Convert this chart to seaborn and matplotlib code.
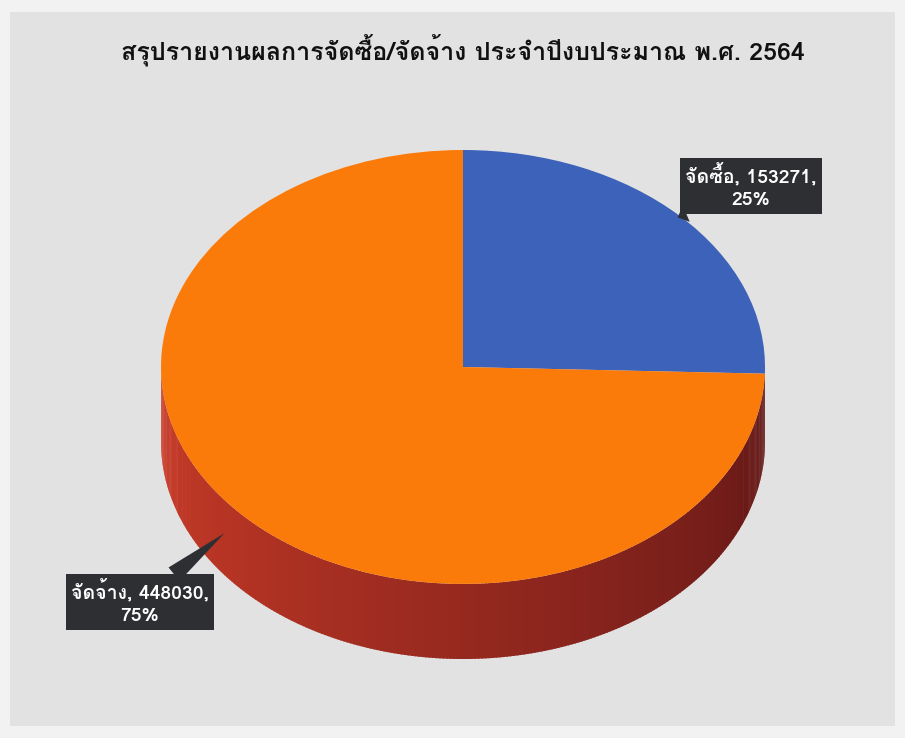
import numpy as np
import matplotlib
matplotlib.use("Agg")
import matplotlib.pyplot as plt
from matplotlib import font_manager as fm
from matplotlib.patches import Polygon, Rectangle
import seaborn as sns

# -----------------------------
# Data
# -----------------------------
title = "สรุปรายงานผลการจัดซื้อ/จัดจ้าง ประจำปีงบประมาณ พ.ศ. 2564"
categories = ["จัดซื้อ", "จัดจ้าง"]
values = [153271, 448030]
slice_colors = ["#3d62ba", "#fb7b0a"]

# -----------------------------
# Find a font with Thai glyphs
# -----------------------------
thai_family = []
try:
    from fontTools.ttLib import TTFont
    for path in sorted(fm.findSystemFonts()):
        try:
            f = TTFont(path, fontNumber=0, lazy=True)
            cmap = f.getBestCmap()
            if cmap and 0x0E08 in cmap and 0x0E0B in cmap:
                name = fm.FontProperties(fname=path).get_name()
                fm.fontManager.addfont(path)
                if name not in thai_family:
                    thai_family.append(name)
        except Exception:
            pass
except Exception:
    pass
print("Thai fonts:", thai_family)

sns.set_theme(style="white")
families = thai_family[:2] + ["DejaVu Sans"]
plt.rcParams["font.family"] = families

# -----------------------------
# Figure / layout (pixels)
# -----------------------------
W, H = 905, 738
cx, cy = 463, 367          # pie centre
rx, ry = 302, 217          # top ellipse radii
depth = 75                 # side depth

fig = plt.figure(figsize=(W / 100, H / 100), dpi=100, facecolor="#f2f2f2")
fig.patches.append(Rectangle((10 / W, 12 / H), 885 / W, 714 / H,
                             transform=fig.transFigure, facecolor="#e2e2e2",
                             edgecolor="none", zorder=-10))

ax = fig.add_axes([0, 0, 1, 1])
ax.patch.set_alpha(0)

wedges, _ = ax.pie(values, colors=slice_colors, startangle=90,
                   counterclock=False, radius=1.0,
                   wedgeprops=dict(linewidth=0, zorder=3))
ax.set_aspect("auto")
ax.set_xlim(-cx / rx, (W - cx) / rx)
ax.set_ylim((cy - H) / ry, cy / ry)
ax.axis("off")

# -----------------------------
# 3D side of the pie (front half only)
# -----------------------------
d = depth / ry
total = sum(values)
angles = [90.0]
for v in values:
    angles.append(angles[-1] - 360.0 * v / total)

side_left = np.array([205, 60, 40]) / 255
side_right = np.array([95, 22, 22]) / 255
for a_start, a_end in zip(angles[:-1], angles[1:]):
    # slice spans a_end..a_start (degrees); keep the front part 180..360
    lo, hi = a_end % 360, a_start % 360
    if hi <= lo:
        hi += 360
    ts = np.linspace(lo, hi, 400)
    for t0, t1 in zip(ts[:-1], ts[1:]):
        tm = ((t0 + t1) / 2) % 360
        if tm < 180:
            continue
        frac = (tm - 180) / 180
        col = side_left * (1 - frac) + side_right * frac
        r0, r1 = np.radians(t0), np.radians(t1 + 0.3)
        pts = [(np.cos(r0), np.sin(r0)), (np.cos(r1), np.sin(r1)),
               (np.cos(r1), np.sin(r1) - d), (np.cos(r0), np.sin(r0) - d)]
        ax.add_patch(Polygon(pts, closed=True, facecolor=col,
                             edgecolor="none", zorder=2))

# -----------------------------
# Data labels (callouts)
# -----------------------------
label_pos = [((751 - cx) / rx, (cy - 186) / ry),
             ((140 - cx) / rx, (cy - 602) / ry)]
tip_r = [0.99, 1.1]
for i, (cat, val) in enumerate(zip(categories, values)):
    mid = np.radians((angles[i] + angles[i + 1]) / 2)
    tip = (tip_r[i] * np.cos(mid), tip_r[i] * np.sin(mid))
    pct = 100 * val / total
    ax.annotate(f"{cat}, {val},\n{pct:.0f}%", xy=tip, xytext=label_pos[i],
                ha="center", va="center", color="white", fontsize=14,
                fontweight="bold", linespacing=1.3, zorder=6,
                bbox=dict(boxstyle="square,pad=0.25", fc="#2e2f33", ec="none"),
                arrowprops=dict(arrowstyle="wedge,tail_width=0.9,shrink_factor=0.5",
                                fc="#2e2f33", ec="none", shrinkA=0, shrinkB=0))

# -----------------------------
# Title
# -----------------------------
fig.text(cx / W, 1 - 50 / H, title, ha="center", va="center",
         fontsize=18, fontweight="bold", color="#111111")

plt.savefig("out.png", dpi=100, facecolor=fig.get_facecolor())
plt.close()
